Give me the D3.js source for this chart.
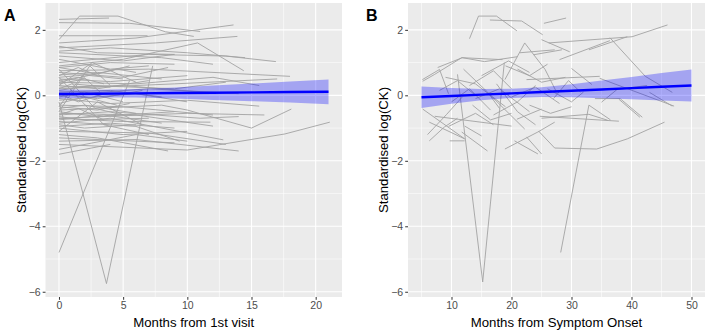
<!DOCTYPE html>
<html>
<head>
<meta charset="utf-8">
<script src="https://cdn.jsdelivr.net/npm/d3@7"></script>
<style>
  body { margin: 0; background: #fff; }
  svg { display: block; font-family: "Liberation Sans", Arial, sans-serif; }
</style>
</head>
<body>
<div id="chart"></div>
<script>
// Panel A: each subject's trajectory, [months from 1st visit, standardised log(CK)]
const visitSubjects = [
  [[0,2.32],[3.9,2.36]],
  [[0,2.22],[5.5,2.2],[11,1.95]],
  [[0,1.7],[1.6,2.42],[4.6,2.42],[8.3,1.94],[10.5,1.8]],
  [[0,1.82],[6.9,1.82]],
  [[0,1.6],[6,1.75],[13.6,2.15]],
  [[0,1.45],[7.5,1.6],[13.9,1.8]],
  [[0,1.5],[3,1.3],[9,1.25]],
  [[0,1.35],[4,1.45],[10,1.3],[14.5,1.15]],
  [[0,1.2],[5,1.05],[9,1.25]],
  [[0,0.9],[5,1.1],[10.8,1.6],[14.4,0.75]],
  [[0,1.0],[7,1.25],[13,1.2],[16.9,1.03]],
  [[0,0.85],[4,1.0],[9,0.95]],
  [[0,0.3],[2.6,1.0],[6,0.4]],
  [[0,0.75],[7,0.8],[18,0.58]],
  [[0,0.62],[3,0.7],[8,0.5]],
  [[0,0.55],[2,0.62],[5,0.5]],
  [[0,0.5],[4,0.42],[10,0.6]],
  [[0,0.45],[1.5,0.55],[3.5,0.35]],
  [[0,0.4],[6,0.35],[12,0.55],[15.6,0.3]],
  [[0,0.35],[2,0.5]],
  [[0,0.3],[3,0.2],[7,0.45]],
  [[0,0.25],[5,0.3],[11,0.1]],
  [[0,0.2],[1,0.35],[4,0.25]],
  [[0,0.15],[2.5,0.3],[9,0.2],[13,0.4]],
  [[0,0.1],[4,0.15],[8,-0.05]],
  [[0,0.05],[3,-0.1],[6.5,0.15]],
  [[0,0.0],[7,0.2],[14,0.05]],
  [[0,-0.05],[2,0.1],[5,-0.2]],
  [[0,-0.1],[4,-0.25],[10,-0.15],[15.6,-0.33]],
  [[0,-0.2],[3.7,-5.75],[7.3,0.9]],
  [[0,-4.8],[5.5,0.45]],
  [[0,-0.3],[5,-0.35],[12,-0.6]],
  [[0,-0.4],[2,-0.3],[6,-0.55]],
  [[0,-0.45],[8,-0.3],[10,-0.45],[15,-1.0],[18.1,-0.42]],
  [[0,-0.5],[3,-0.65],[9,-0.5]],
  [[0,-0.55],[6,-0.6],[12,-0.94]],
  [[0,-0.6],[4,-0.5],[11,-0.7],[14,-0.65]],
  [[0,-0.65],[2,-0.75],[7,-0.7]],
  [[0,-0.7],[5,-0.8],[11.8,-0.82]],
  [[0,-0.75],[3.5,-0.6],[8,-0.85]],
  [[0,-0.8],[6,-0.95],[9.4,-1.4]],
  [[0,-0.85],[4,-0.7],[12.8,-1.36]],
  [[0,-0.9],[2,-1.0],[6,-0.9]],
  [[0,-1.0],[5,-1.2],[10,-1.1]],
  [[0,-1.1],[7,-1.15],[13,-1.5]],
  [[0,-1.2],[3,-1.3],[8.5,-1.7]],
  [[0,-1.3],[9,-1.45]],
  [[0,-1.5],[10,-1.67],[17.6,-1.18],[21.1,-0.82]],
  [[0,-1.65],[6,-1.2],[10,-1.4]],
  [[0,-1.8],[4,-1.5]],
  [[0,0.6],[1.5,0.85],[3,0.6]],
  [[0,0.7],[5,0.55],[8.5,0.85]],
  [[0,0.4],[4.5,0.8],[6,0.7]],
  [[0,-0.25],[2,-0.05],[4.5,-0.3]],
  [[0,0.05],[1.5,-0.2],[3.5,0.05]],
  [[0,-0.35],[3,-0.45],[5.5,-0.25]],
  [[0,-0.6],[1.5,-0.4],[3.5,-0.75]],
  [[0,0.85],[3,0.65],[5.5,0.9]],
  [[0,-0.15],[6,0.05],[10,-0.2]],
  [[0,-0.95],[4,-0.85],[9,-1.0]],
  [[0,1.3],[8,1.15],[12,0.95]],
  [[0,-1.4],[6,-1.35],[14,-1.7]],
  [[0,0.2],[9,0.35],[17,0.5]],
  [[0,1.1],[4,0.8],[7,0.9]],
  [[0,-0.7],[10,-0.55],[16,-0.6]],
  [[0,-0.5],[2.4,0.9],[4,0.3]],
  [[0,0.8],[2.8,-0.4],[5,-0.6]],
  [[0,-1.1],[3,-0.2],[6.5,-0.9]],
  [[0,0.55],[3.5,-0.9],[7,-1.2]],
  [[0,-0.35],[1.8,0.6],[3.2,0.1]]
];

// Panel A fitted line with confidence band
const visitFitX     = [0, 3, 6, 9, 12, 15, 18, 21];
const visitFitY     = [0.04, 0.05, 0.06, 0.07, 0.08, 0.09, 0.10, 0.11];
const visitFitLower = [-0.10, -0.07, -0.07, -0.10, -0.14, -0.18, -0.22, -0.27];
const visitFitUpper = [0.18, 0.17, 0.19, 0.24, 0.30, 0.36, 0.42, 0.48];

// Panel B: each subject's trajectory, [months from symptom onset, standardised log(CK)]
const onsetSubjects = [
  [[13,1.73],[14.5,2.42],[17.5,2.42],[20.9,1.97]],
  [[16.4,2.3],[21.7,2.27],[25.2,1.85]],
  [[25.4,2.2],[29.1,2.36]],
  [[26.2,1.6],[40.1,1.79],[46,2.15]],
  [[36.4,1.76],[42.3,0.58],[46.8,0.09]],
  [[32.9,1.39],[39.3,1.79]],
  [[28,1.09],[36.4,1.67]],
  [[34.7,0.52],[47.1,-0.33]],
  [[30,0.82],[33.4,0.33]],
  [[33.9,-0.1],[38.1,-0.1],[41.8,-0.67]],
  [[35,-0.21],[37.6,0.18],[42.6,0.3]],
  [[24.5,-1.09],[27.2,-1.61],[34.2,-1.64],[39.3,-1.33],[45.5,-0.82]],
  [[11,0.64],[15.2,-5.7],[18.8,1.0]],
  [[28.2,-4.8],[32.9,-0.3],[36.5,-0.75]],
  [[5.2,0.43],[7.2,0.64],[11.7,1.15],[18.5,1.09]],
  [[7.7,0.85],[11.8,1.15],[15.5,1.03],[21,1.18]],
  [[5.2,-0.42],[12.2,-1.33]],
  [[6.3,-1.39],[8.8,-0.97],[11,-0.7]],
  [[6,-1.2],[9.2,-0.58],[11.8,-0.05]],
  [[5.15,0.48],[8,0.79],[9.5,0.05]],
  [[18.9,0.48],[22.2,1.6],[25.6,0.79],[27.5,0.1]],
  [[21.4,1.3],[27.2,1.39]],
  [[6.3,-0.82],[12.2,-1.33]],
  [[9.7,-1.39],[12.2,-1.39]],
  [[11.7,-1.12],[16,-1.7]],
  [[12.2,-0.94],[15,-1.24]],
  [[7.2,-0.64],[20,-0.94]],
  [[18.9,-1.64],[24.4,-1.12],[27.2,-0.82]],
  [[20.5,-1.39],[24.4,-1.79]],
  [[20.9,-0.73],[25,-0.42]],
  [[16,0.09],[22.2,-1.03]],
  [[23.7,1.24],[28.4,1.39]],
  [[25,1.7],[29.7,1.33]],
  [[22.5,0.48],[34.7,0.58]],
  [[37.9,-0.12],[41.4,-0.67]],
  [[43,0.09],[46.8,-0.33]],
  [[24.7,-0.64],[37.9,-0.79]],
  [[25,-0.7],[32.9,-0.58],[36,-0.76]],
  [[22.5,-1.27],[25,-1.79]],
  [[13,0.3],[17,0.75],[20,0.2]],
  [[9,0.55],[14,0.35],[19,-0.35]],
  [[14,-0.1],[18,0.2],[23,-0.5]],
  [[17,-0.6],[21,-0.2],[24,0.3]],
  [[10,-0.2],[13,0.2],[16.5,-0.45]],
  [[19,0.9],[23,0.6],[26,0.95]],
  [[26,0.2],[30,-0.2],[32,0.1]],
  [[20,-0.05],[24,0.25],[28,-0.25]],
  [[8,0.15],[11,0.45],[14,0.0]],
  [[12,0.8],[16,0.1],[18,-0.4]],
  [[15,0.6],[19.5,1.05],[23,0.7]],
  [[9.5,-0.95],[14,-0.55],[17,-0.9]],
  [[17.5,0.35],[21,-0.5],[24,-0.9]],
  [[21,0.8],[25,0.4],[29,0.55]],
  [[13.5,-0.3],[16.5,-0.75],[20,-0.55]],
  [[27,-0.1],[29.5,0.45],[31.5,0.1]],
  [[23,-0.3],[26.5,-0.55],[30,-0.35]]
];

// Panel B fitted line with confidence band
const onsetFitX     = [5, 10, 15, 20, 25, 30, 35, 40, 45, 50];
const onsetFitY     = [-0.06, -0.02, 0.02, 0.06, 0.10, 0.14, 0.18, 0.22, 0.26, 0.30];
const onsetFitLower = [-0.39, -0.26, -0.15, -0.08, -0.05, -0.06, -0.09, -0.12, -0.16, -0.19];
const onsetFitUpper = [0.27, 0.22, 0.19, 0.20, 0.25, 0.34, 0.45, 0.56, 0.68, 0.79];

// axis ticks
const visitXTicks = [0, 5, 10, 15, 20];
const visitXMinor = [2.5, 7.5, 12.5, 17.5];
const onsetXTicks = [10, 20, 30, 40, 50];
const onsetXMinor = [5, 15, 25, 35, 45];
const yTicks = [-6, -4, -2, 0, 2];
const yMinor = [-5, -3, -1, 1];

const width = 707, height = 332;
const svg = d3.select("#chart").append("svg")
  .attr("width", width)
  .attr("height", height);

function drawPanel(opt) {
  const x = d3.scaleLinear().domain(opt.xDomain).range([opt.left, opt.right]);
  const y = d3.scaleLinear().domain([-6.16, 2.82]).range([297, 3]);
  const g = svg.append("g");

  g.append("rect")
    .attr("x", opt.left).attr("y", 3)
    .attr("width", opt.right - opt.left).attr("height", 294)
    .attr("fill", "#EBEBEB");

  // grid
  g.selectAll(".xminor").data(opt.xMinor).join("line")
    .attr("x1", d => x(d)).attr("x2", d => x(d)).attr("y1", 3).attr("y2", 297)
    .attr("stroke", "#fff").attr("stroke-width", 0.55);
  g.selectAll(".yminor").data(yMinor).join("line")
    .attr("x1", opt.left).attr("x2", opt.right).attr("y1", d => y(d)).attr("y2", d => y(d))
    .attr("stroke", "#fff").attr("stroke-width", 0.55);
  g.selectAll(".xmajor").data(opt.xTicks).join("line")
    .attr("x1", d => x(d)).attr("x2", d => x(d)).attr("y1", 3).attr("y2", 297)
    .attr("stroke", "#fff").attr("stroke-width", 1.1);
  g.selectAll(".ymajor").data(yTicks).join("line")
    .attr("x1", opt.left).attr("x2", opt.right).attr("y1", d => y(d)).attr("y2", d => y(d))
    .attr("stroke", "#fff").attr("stroke-width", 1.1);

  // subject lines
  const line = d3.line().x(d => x(d[0])).y(d => y(d[1]));
  g.append("g").selectAll("path").data(opt.subjects).join("path")
    .attr("d", line)
    .attr("fill", "none")
    .attr("stroke", "#A3A3A3")
    .attr("stroke-width", 0.9);

  // fit ribbon + line
  const fit = opt.fitX.map((d, i) => ({ x: d, y: opt.fitY[i], lo: opt.fitLo[i], hi: opt.fitHi[i] }));
  g.append("path")
    .datum(fit)
    .attr("d", d3.area().x(d => x(d.x)).y0(d => y(d.lo)).y1(d => y(d.hi)))
    .attr("fill", "#0000FF")
    .attr("fill-opacity", 0.3);
  g.append("path")
    .datum(fit)
    .attr("d", d3.line().x(d => x(d.x)).y(d => y(d.y)))
    .attr("fill", "none")
    .attr("stroke", "#0000FF")
    .attr("stroke-width", 2.4);

  // axes
  const xAxis = g.append("g")
    .attr("transform", `translate(0,297)`)
    .call(d3.axisBottom(x).tickValues(opt.xTicks).tickSize(2.8).tickPadding(2));
  const yAxis = g.append("g")
    .attr("transform", `translate(${opt.left},0)`)
    .call(d3.axisLeft(y).tickValues(yTicks).tickSize(2.8).tickPadding(2));
  [xAxis, yAxis].forEach(a => {
    a.select(".domain").remove();
    a.selectAll(".tick line").attr("stroke", "#333333").attr("stroke-width", 1);
    a.selectAll(".tick text").attr("fill", "#4D4D4D").attr("font-size", 10.5)
      .attr("font-family", "Liberation Sans, Arial, sans-serif");
  });

  // titles
  g.append("text")
    .attr("x", (opt.left + opt.right) / 2).attr("y", 327)
    .attr("text-anchor", "middle")
    .attr("font-size", 13.2).attr("fill", "#000")
    .text(opt.xTitle);
  g.append("text")
    .attr("transform", `translate(${opt.yTitleX},150) rotate(-90)`)
    .attr("text-anchor", "middle")
    .attr("font-size", 13.2).attr("fill", "#000")
    .text("Standardised log(CK)");
  g.append("text")
    .attr("x", opt.tagX).attr("y", 21)
    .attr("font-size", 16).attr("font-weight", "bold").attr("fill", "#000")
    .text(opt.tag);
}

drawPanel({
  tag: "A", tagX: 4, yTitleX: 26,
  left: 45.5, right: 342,
  xDomain: [-1.05, 22.05],
  xTicks: visitXTicks, xMinor: visitXMinor,
  subjects: visitSubjects,
  fitX: visitFitX, fitY: visitFitY, fitLo: visitFitLower, fitHi: visitFitUpper,
  xTitle: "Months from 1st visit"
});

drawPanel({
  tag: "B", tagX: 366, yTitleX: 388,
  left: 408, right: 705,
  xDomain: [2.75, 52.25],
  xTicks: onsetXTicks, xMinor: onsetXMinor,
  subjects: onsetSubjects,
  fitX: onsetFitX, fitY: onsetFitY, fitLo: onsetFitLower, fitHi: onsetFitUpper,
  xTitle: "Months from Symptom Onset"
});
</script>
</body>
</html>
